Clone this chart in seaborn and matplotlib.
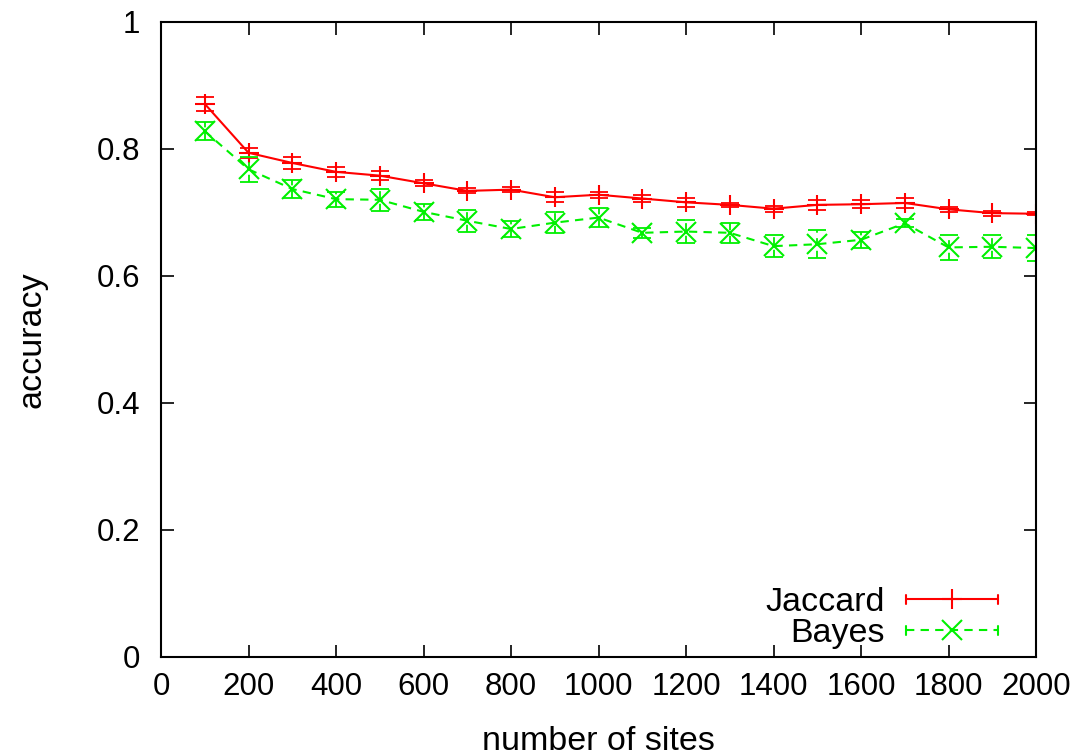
import matplotlib
matplotlib.use("Agg")
import numpy as np
import pandas as pd
import seaborn as sns
import matplotlib.pyplot as plt
from matplotlib.legend_handler import HandlerBase
from matplotlib.lines import Line2D
from matplotlib.ticker import FuncFormatter

# ---- data ----
sites = list(range(100, 2001, 100))
jaccard = [0.871, 0.794, 0.778, 0.764, 0.758, 0.746, 0.734, 0.736, 0.724, 0.728,
           0.722, 0.716, 0.712, 0.706, 0.712, 0.713, 0.715, 0.705, 0.699, 0.698]
jaccard_err = [0.011, 0.008, 0.009, 0.008, 0.007, 0.005, 0.004, 0.004, 0.008, 0.005,
               0.005, 0.007, 0.003, 0.005, 0.008, 0.006, 0.008, 0.004, 0.004, 0.002]
bayes = [0.828, 0.768, 0.737, 0.721, 0.720, 0.701, 0.687, 0.674, 0.684, 0.692,
         0.668, 0.670, 0.668, 0.647, 0.650, 0.657, 0.683, 0.645, 0.646, 0.644]
bayes_err = [0.014, 0.020, 0.014, 0.012, 0.017, 0.013, 0.017, 0.013, 0.017, 0.015,
             0.008, 0.018, 0.016, 0.017, 0.022, 0.013, 0.006, 0.020, 0.018, 0.020]
labels = ["Jaccard", "Bayes"]
colors = {"Jaccard": "#ff0000", "Bayes": "#00f000"}
x_ticks = list(range(0, 2001, 200))
y_ticks = [0, 0.2, 0.4, 0.6, 0.8, 1.0]

df = pd.DataFrame({
    "sites": sites + sites,
    "accuracy": jaccard + bayes,
    "method": ["Jaccard"] * len(sites) + ["Bayes"] * len(sites),
})

FS = 22.5
FL = 24.5

sns.set_theme(style="ticks")
plt.rcParams["font.family"] = ["Liberation Sans", "DejaVu Sans"]
plt.rcParams["text.color"] = "black"
plt.rcParams["axes.labelcolor"] = "black"
plt.rcParams["xtick.color"] = "black"
plt.rcParams["ytick.color"] = "black"

fig = plt.figure(figsize=(10.83, 7.56), dpi=100)
ax = fig.add_axes([0.1487, 0.131, 0.8079, 0.8399])

sns.lineplot(data=df, x="sites", y="accuracy", hue="method", style="method",
             palette=colors, dashes={"Jaccard": "", "Bayes": (4, 3)},
             markers={"Jaccard": "+", "Bayes": "x"}, markersize=14,
             markeredgewidth=1.5, linewidth=1.5, legend=False, ax=ax)
for ln in ax.lines:
    ln.set_markeredgecolor(ln.get_color())

ax.errorbar(sites, jaccard, yerr=jaccard_err, fmt="none", ecolor=colors["Jaccard"],
            elinewidth=1.3, capsize=6.5, capthick=1.3)
eb = ax.errorbar(sites, bayes, yerr=bayes_err, fmt="none", ecolor=colors["Bayes"],
                 elinewidth=1.3, capsize=6.5, capthick=1.3)
eb[2][0].set_linestyle((0, (4, 3)))


class HandlerErrH(HandlerBase):
    def __init__(self, color, ls, marker):
        super().__init__()
        self.color = color
        self.ls = ls
        self.marker = marker

    def create_artists(self, legend, orig_handle, xdescent, ydescent, width,
                       height, fontsize, trans):
        y = (height - ydescent) / 2
        x0, x1 = -xdescent, width - xdescent
        h = 3.2
        line = Line2D([x0, x1], [y, y], color=self.color, ls=self.ls, lw=1.5)
        c0 = Line2D([x0, x0], [y - h, y + h], color=self.color, lw=1.5)
        c1 = Line2D([x1, x1], [y - h, y + h], color=self.color, lw=1.5)
        m = Line2D([(x0 + x1) / 2], [y], color=self.color, marker=self.marker,
                   markersize=15, markeredgewidth=1.5, ls="none")
        arts = [line, c0, c1, m]
        for a in arts:
            a.set_transform(trans)
        return arts


h1 = Line2D([], [], color=colors["Jaccard"])
h2 = Line2D([], [], color=colors["Bayes"])
ax.legend([h1, h2], labels, loc="lower right", bbox_to_anchor=(0.9566, 0.012),
          frameon=False, markerfirst=False, handlelength=2.7, handletextpad=0.62,
          borderpad=0, borderaxespad=0, labelspacing=0.0, fontsize=FL,
          handler_map={h1: HandlerErrH(colors["Jaccard"], "-", "+"),
                       h2: HandlerErrH(colors["Bayes"], (0, (4, 3)), "x")})

ax.set_xlim(0, 2000)
ax.set_ylim(0, 1)
ax.set_xticks(x_ticks)
ax.set_yticks(y_ticks)
ax.yaxis.set_major_formatter(FuncFormatter(lambda v, p: f"{v:g}"))
ax.tick_params(direction="in", top=True, right=True, length=9, width=1.2,
               labelsize=FS, colors="black")
ax.tick_params(axis="x", pad=11)
ax.tick_params(axis="y", pad=15)
for s in ax.spines.values():
    s.set_linewidth(1.5)
    s.set_color("black")
ax.set_xlabel("number of sites", fontsize=FL, labelpad=17)
ax.set_ylabel("accuracy", fontsize=FL, labelpad=35)
ax.grid(False)

fig.savefig("out.png", dpi=100)
